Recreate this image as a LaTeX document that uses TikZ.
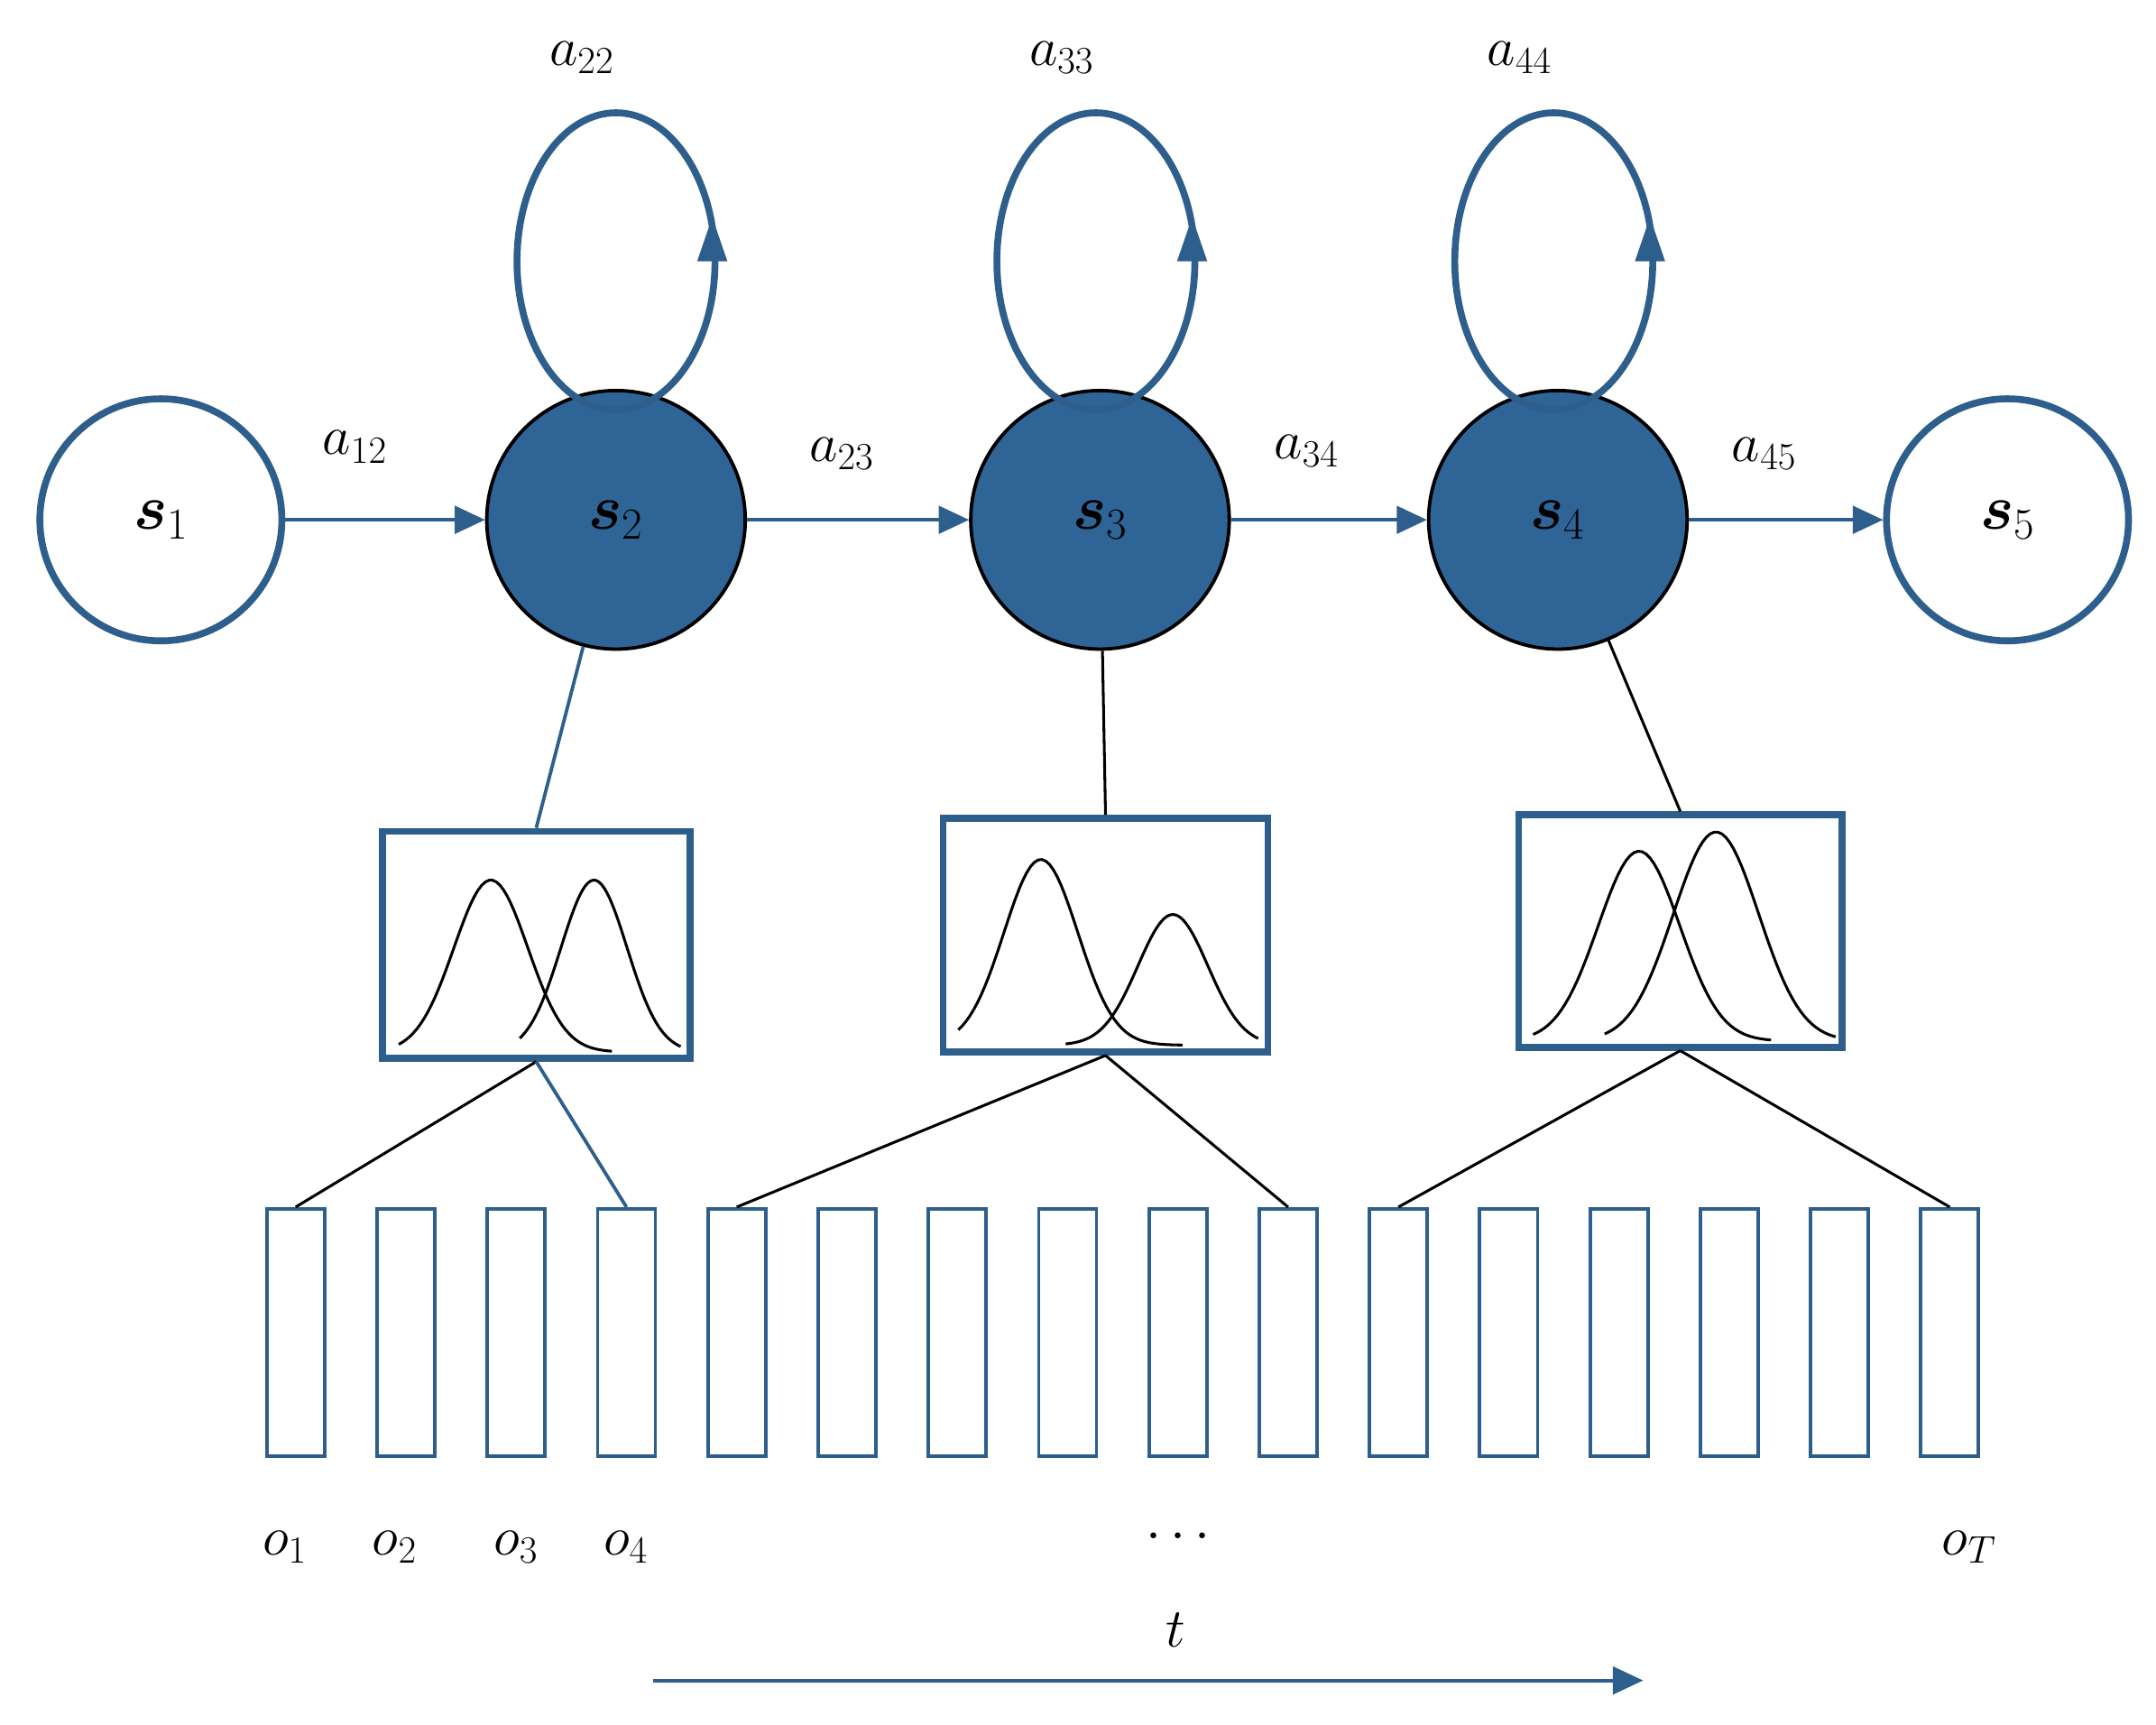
\documentclass[tikz,border=0pt]{standalone}
\usepackage{fix-cm}
\usepackage{amsmath,bm}
\usetikzlibrary{arrows.meta}
\definecolor{hb}{HTML}{2E5F8C}
\definecolor{hf}{HTML}{2F6496}
\begin{document}
\begin{tikzpicture}[x=1pt,y=-1pt,
  lbl/.style={font=\fontsize{40}{48}\selectfont},
  st/.style={circle,draw=hb,line width=5pt,minimum size=176pt,inner sep=0pt,font=\fontsize{46}{52}\selectfont},
  fs/.style={circle,draw=black,line width=2.5pt,fill=hf,minimum size=188pt,inner sep=0pt,font=\fontsize{46}{52}\selectfont},
  tr/.style={draw=hb,line width=2.5pt,-{Triangle[length=22pt,width=20pt]}},
  loop/.style={draw=hb,line width=5pt},
  gb/.style={draw=hb,line width=5pt},
  ob/.style={draw=hb,line width=2.5pt,minimum width=42pt,minimum height=180pt,inner sep=0pt},
  ln/.style={draw=black,line width=2pt},
  g/.style={draw=black,line width=2pt}]
\useasboundingbox (0,0) rectangle (1568,1254);
\node[st] (s1) at (117,378) {$\bm{s}_1$};
\node[fs] (s2) at (448,378) {$\bm{s}_2$};
\node[fs] (s3) at (800,378) {$\bm{s}_3$};
\node[fs] (s4) at (1133,378) {$\bm{s}_4$};
\node[st] (s5) at (1460,378) {$\bm{s}_5$};
\draw[tr] (s1) -- (s2);
\draw[tr] (s2) -- (s3);
\draw[tr] (s3) -- (s4);
\draw[tr] (s4) -- (s5);
\node[lbl] at (258,325) {$a_{12}$};
\node[lbl] at (612,330) {$a_{23}$};
\node[lbl] at (950,328) {$a_{34}$};
\node[lbl] at (1283,330) {$a_{45}$};
\foreach \c/\n/\l in {448/s2/22, 797/s3/33, 1130/s4/44}{
  \draw[loop] (\c,190) ellipse [x radius=72, y radius=108];
  \fill[hb] (\c+70,158) -- (\c+59,190) -- (\c+81,190) -- cycle;
  \node[lbl] at (\c-25,42) {$a_{\l}$};
}
\node[gb,minimum width=224pt,minimum height=165pt,inner sep=0pt] (b1) at (390,687) {};
\node[gb,minimum width=236pt,minimum height=170pt,inner sep=0pt] (b2) at (804,680) {};
\node[gb,minimum width=235pt,minimum height=169pt,inner sep=0pt] (b3) at (1222,677) {};
\draw[hb,line width=2.5pt] (s2) -- (b1.north);
\draw[ln] (s3) -- (b2.north);
\draw[ln] (s4) -- (b3.north);
\draw[g] plot[domain=290:445,samples=60] (\x,{765-125*exp(-((\x-357)/38)^2)});
\draw[g] plot[domain=378:495,samples=60] (\x,{765-125*exp(-((\x-432)/34)^2)});
\draw[g] plot[domain=697:860,samples=60] (\x,{760-135*exp(-((\x-757)/38)^2)});
\draw[g] plot[domain=775:915,samples=60] (\x,{760-95*exp(-((\x-853)/36)^2)});
\draw[g] plot[domain=1115:1288,samples=60] (\x,{757-138*exp(-((\x-1192)/42)^2)});
\draw[g] plot[domain=1167:1335,samples=60] (\x,{757-152*exp(-((\x-1248)/44)^2)});
\foreach \i in {1,...,16}{
  \node[ob] (o\i) at ({215+80.2*(\i-1)},969) {};
}
\draw[ln] (b1.south) -- (o1.north);
\draw[hb,line width=2.5pt] (b1.south) -- (o4.north);
\draw[ln] (b2.south) -- (o5.north);
\draw[ln] (b2.south) -- (o10.north);
\draw[ln] (b3.south) -- (o11.north);
\draw[ln] (b3.south) -- (o16.north);
\node[lbl] at (207,1125) {$o_1$};
\node[lbl] at (287,1125) {$o_2$};
\node[lbl] at (375,1125) {$o_3$};
\node[lbl] at (455,1125) {$o_4$};
\node[lbl] at (860,1118) {$\cdots$};
\node[lbl] at (1432,1125) {$o_T$};
\node[lbl] at (855,1185) {$t$};
\coordinate (ta) at (475,1222);
\coordinate (tb) at (1195,1222);
\draw[tr] (ta) -- (tb);
\end{tikzpicture}
\end{document}
